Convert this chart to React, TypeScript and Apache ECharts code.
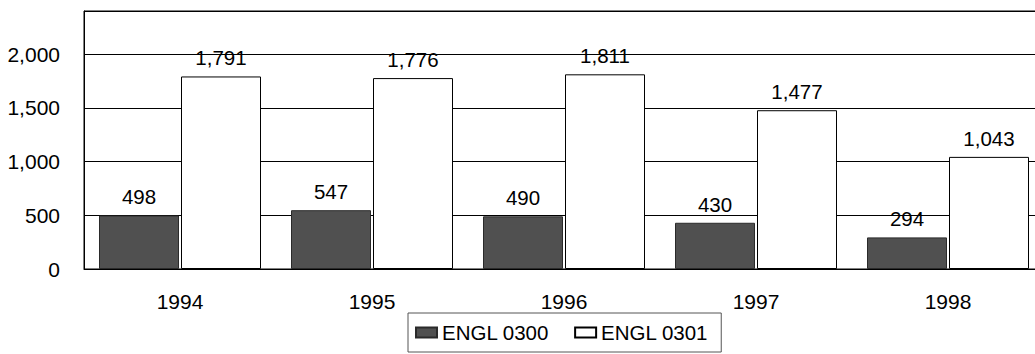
import React, { useEffect, useRef } from "react";
import * as echarts from "echarts";

const categories = ["1994", "1995", "1996", "1997", "1998"];
const engl0300 = [498, 547, 490, 430, 294];
const engl0301 = [1791, 1776, 1811, 1477, 1043];
const seriesNames = ["ENGL 0300", "ENGL 0301"];

const fmt = (v: number) => v.toLocaleString("en-US");
const FONT = "Liberation Sans, Arial, sans-serif";
const FS = 21;

export default function App() {
  const ref = useRef<HTMLDivElement>(null);
  useEffect(() => {
    if (!ref.current) return;
    const chart = echarts.init(ref.current, null, { renderer: "svg" });
    const label = {
      show: true,
      position: "top",
      distance: 8,
      color: "#000",
      fontSize: 20.5,
      fontFamily: FONT,
      formatter: (p: any) => fmt(p.value),
    };
    chart.setOption({
      animation: false,
      backgroundColor: "#fff",
      textStyle: { fontFamily: FONT },
      grid: {
        left: 84,
        top: 11,
        width: 960,
        bottom: 85,
        show: true,
        borderColor: "#000",
        borderWidth: 1,
        backgroundColor: "transparent",
        containLabel: false,
        outerBoundsMode: "none",
      },
      legend: {
        bottom: 2,
        left: 408,
        data: seriesNames,
        icon: "rect",
        itemWidth: 21,
        itemHeight: 10,
        itemGap: 25,
        padding: [9, 13, 9, 7],
        borderColor: "#555",
        borderWidth: 1,
        textStyle: { fontSize: 20.5, color: "#000", fontFamily: FONT },
      },
      xAxis: {
        type: "category",
        data: categories,
        axisLine: { show: true, lineStyle: { color: "#000", width: 1 } },
        axisTick: { show: false },
        axisLabel: { fontSize: FS, color: "#000", margin: 22, fontFamily: FONT },
      },
      yAxis: {
        type: "value",
        min: 0,
        max: 2400,
        interval: 500,
        axisLine: { show: true, lineStyle: { color: "#000", width: 1 } },
        axisTick: { show: false },
        splitLine: { show: true, lineStyle: { color: "#000", width: 1 } },
        axisLabel: {
          fontSize: FS,
          color: "#000",
          margin: 24,
          fontFamily: FONT,
          formatter: (v: number) => (v % 500 === 0 ? fmt(v) : ""),
        },
      },
      series: [
        {
          name: seriesNames[0],
          type: "bar",
          data: engl0300,
          barWidth: 80,
          barGap: "2.5%",
          itemStyle: { color: "#505050", borderColor: "#2a2a2a", borderWidth: 1 },
          label,
        },
        {
          name: seriesNames[1],
          type: "bar",
          data: engl0301,
          barWidth: 80,
          barGap: "2.5%",
          itemStyle: { color: "#fff", borderColor: "#000", borderWidth: 1 },
          label,
        },
      ],
    });
    return () => chart.dispose();
  }, []);
  return (
    <div
      ref={ref}
      style={{ position: "fixed", left: 0, top: 0, width: 1035, height: 354 }}
    />
  );
}
